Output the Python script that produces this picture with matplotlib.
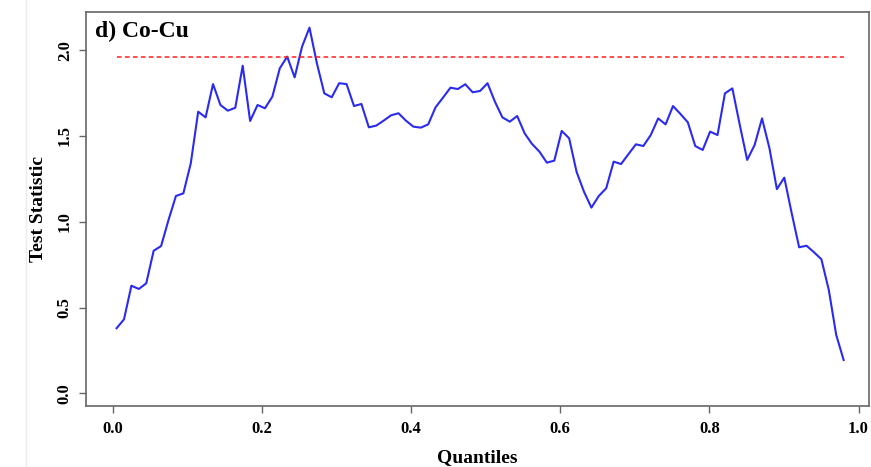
import numpy as np
import matplotlib
matplotlib.use("Agg")
import matplotlib.pyplot as plt
from matplotlib.lines import Line2D

plt.rcParams['font.family'] = ['Liberation Serif', 'DejaVu Serif']
plt.rcParams['font.weight'] = 'bold'

# test statistic at each quantile, Co-Cu pair
stat = [0.379, 0.431, 0.627, 0.608, 0.641, 0.831, 0.858, 1.010, 1.150, 1.165,
        1.340, 1.641, 1.608, 1.802, 1.680, 1.647, 1.664, 1.909, 1.587, 1.680,
        1.661, 1.729, 1.894, 1.962, 1.841, 2.020, 2.131, 1.923, 1.748, 1.725,
        1.807, 1.802, 1.674, 1.686, 1.550, 1.560, 1.589, 1.620, 1.632, 1.589,
        1.554, 1.548, 1.567, 1.667, 1.723, 1.781, 1.773, 1.801, 1.754, 1.762,
        1.807, 1.699, 1.608, 1.583, 1.616, 1.515, 1.453, 1.408, 1.344, 1.356,
        1.529, 1.486, 1.291, 1.175, 1.082, 1.150, 1.195, 1.350, 1.336, 1.394,
        1.451, 1.441, 1.505, 1.602, 1.567, 1.674, 1.628, 1.579, 1.441, 1.418,
        1.525, 1.505, 1.748, 1.777, 1.564, 1.360, 1.447, 1.602, 1.428, 1.190,
        1.257, 1.049, 0.851, 0.860, 0.822, 0.781, 0.602, 0.340, 0.194]
quantiles = np.linspace(0.005, 0.98, len(stat))
crit = 1.96
panel = "d) Co-Cu"

fig = plt.figure(figsize=(8.71, 4.67), dpi=100)
ax = fig.add_axes([86 / 871, 61 / 467, 783 / 871, 394 / 467])

ax.plot(quantiles, stat, color="#2b2bf0", lw=1.5)
ax.plot([quantiles[0], quantiles[-1]], [crit, crit], color="#ff1f1f",
        lw=1.1, dashes=(3.0, 2.2))

ax.set_xlim(-0.036, 1.014)
ax.set_ylim(-0.074, 2.222)
ax.set_xticks([0.0, 0.2, 0.4, 0.6, 0.8, 1.0])
ax.set_yticks([0.0, 0.5, 1.0, 1.5, 2.0])
ax.set_xticklabels(["0.0", "0.2", "0.4", "0.6", "0.8", "1.0"])
ax.set_yticklabels(["0.0", "0.5", "1.0", "1.5", "2.0"], rotation=90, va="center")

for s in ax.spines.values():
    s.set_color("#666666")
    s.set_linewidth(1.2)
ax.tick_params(length=5, width=1.0, color="#666666", labelsize=12)
ax.tick_params(axis="y", pad=4.5)
ax.tick_params(axis="x", pad=5.5)

ax.set_xlabel("Quantiles", fontsize=14, fontweight="bold", labelpad=9)
ax.set_ylabel("Test Statistic", fontsize=14, fontweight="bold", labelpad=7)
ax.text(0.0115, 0.9365, panel, transform=ax.transAxes, fontsize=17,
        fontweight="bold", va="baseline", ha="left")

fig.add_artist(Line2D([26 / 871, 26 / 871], [0, 1], color="#ececec", lw=1))

fig.savefig("out.png", dpi=100)
